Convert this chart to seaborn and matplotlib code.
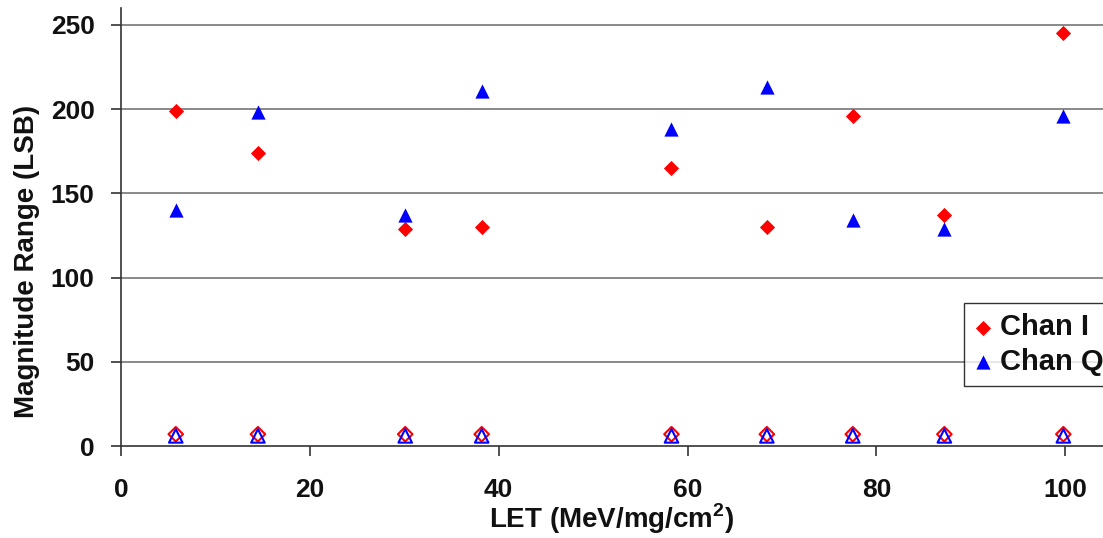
import matplotlib
matplotlib.use("Agg")
import matplotlib.pyplot as plt
import seaborn as sns
import pandas as pd

# Data
let_values = [5.8, 14.5, 30.1, 38.2, 58.3, 68.4, 77.5, 87.2, 99.8]
chan_i = [199, 174, 129, 130, 165, 130, 196, 137, 245]
chan_q = [140, 198, 137, 211, 188, 213, 134, 129, 196]
chan_i_low = [7, 7, 7, 7, 7, 7, 7, 7, 7]
chan_q_low = [6, 6, 6, 6, 6, 6, 6, 6, 6]
y_ticks = [0, 50, 100, 150, 200, 250]
x_ticks = [0, 20, 40, 60, 80, 100]

sns.set_theme(style="white")
plt.rcParams['font.family'] = ['Liberation Sans', 'DejaVu Sans']
plt.rcParams['font.weight'] = 'bold'
plt.rcParams['text.color'] = '#111111'
plt.rcParams['axes.labelcolor'] = '#111111'
plt.rcParams['xtick.color'] = '#111111'
plt.rcParams['ytick.color'] = '#111111'
plt.rcParams['mathtext.fontset'] = 'custom'
plt.rcParams['mathtext.rm'] = 'Liberation Sans:bold'
plt.rcParams['mathtext.bf'] = 'Liberation Sans:bold'

fig = plt.figure(figsize=(11.03, 5.38), dpi=100)
ax = fig.add_axes([121 / 1103, 92 / 538, 1 - 121 / 1103, (446 - 8) / 538])

df = pd.DataFrame({"LET": let_values, "I": chan_i, "Q": chan_q,
                   "Ilow": chan_i_low, "Qlow": chan_q_low})

sns.scatterplot(data=df, x="LET", y="Ilow", ax=ax, marker="D", s=55,
                facecolor="none", edgecolor="#FF0000", linewidth=1.5, zorder=3)
sns.scatterplot(data=df, x="LET", y="Qlow", ax=ax, marker="^", s=95,
                facecolor="none", edgecolor="#0000FF", linewidth=1.5, zorder=3)
sns.scatterplot(data=df, x="LET", y="I", ax=ax, marker="D", s=60,
                color="#FF0000", edgecolor="#FF0000", linewidth=0, label="Chan I", zorder=4)
sns.scatterplot(data=df, x="LET", y="Q", ax=ax, marker="^", s=105,
                color="#0000FF", edgecolor="#0000FF", linewidth=0, label="Chan Q", zorder=4)

ax.set_xlim(0, 104)
ax.set_ylim(0, 260)
ax.set_xticks(x_ticks)
ax.set_yticks(y_ticks)
ax.set_xticklabels([str(t) for t in x_ticks], fontsize=19, fontweight='bold')
ax.set_yticklabels([str(t) for t in y_ticks], fontsize=19, fontweight='bold')

for y in y_ticks[1:]:
    ax.axhline(y, color="#808080", linewidth=1.3, zorder=1)

for side in ["top", "right"]:
    ax.spines[side].set_visible(False)
for side in ["left", "bottom"]:
    ax.spines[side].set_color("#333333")
    ax.spines[side].set_linewidth(1.2)

ax.tick_params(axis="both", direction="out", length=7, width=1.2, color="#333333",
               bottom=True, left=True)
ax.tick_params(axis="x", pad=16)
ax.tick_params(axis="y", pad=12)

ax.set_xlabel(r"LET (MeV/mg/cm$^{\mathbf{2}}$)", fontsize=20, fontweight='bold', labelpad=0)
ax.set_ylabel("Magnitude Range (LSB)", fontsize=20, fontweight='bold')
ax.yaxis.set_label_coords((40 - 121) / 982, (446 - 261) / 438)

leg = ax.legend(loc="upper left", bbox_to_anchor=(964 / 1103, (538 - 303) / 538),
                bbox_transform=fig.transFigure, borderaxespad=0, frameon=True,
                fancybox=False, shadow=False, prop={"size": 21, "weight": "bold"},
                handletextpad=0.28, handlelength=0.62, labelspacing=0.22,
                borderpad=0.35)
leg.get_frame().set_edgecolor("#000000")
leg.get_frame().set_linewidth(1.0)

fig.savefig("out.png", dpi=100)
